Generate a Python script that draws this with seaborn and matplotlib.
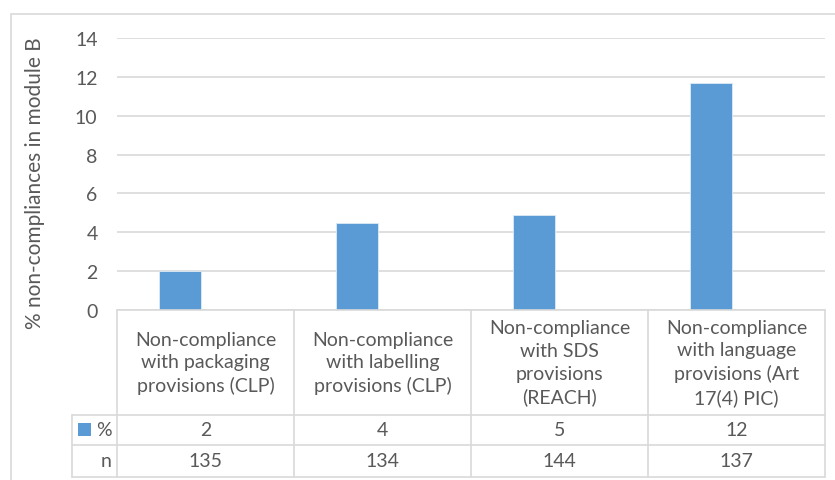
import matplotlib
matplotlib.use("Agg")
import matplotlib.pyplot as plt
import matplotlib.transforms as mtransforms
from matplotlib.patches import Rectangle
import seaborn as sns
import pandas as pd

# data
categories = ["Non-compliance\nwith packaging\nprovisions (CLP)",
              "Non-compliance\nwith labelling\nprovisions (CLP)",
              "Non-compliance\nwith SDS\nprovisions\n(REACH)",
              "Non-compliance\nwith language\nprovisions (Art\n17(4) PIC)"]
pct_values = [2.0, 4.5, 4.9, 11.7]
pct_labels = ["2", "4", "5", "12"]
n_values = ["135", "134", "144", "137"]
yticks = [0, 2, 4, 6, 8, 10, 12, 14]

bar_color = "#5B9BD5"
grid_color = "#D9D9D9"
text_color = "#595959"
fs = 14

sns.set_theme(style="white")
plt.rcParams['font.family'] = ['Lato', 'DejaVu Sans']

W, H = 835, 481
fig = plt.figure(figsize=(W / 100, H / 100), dpi=100)
ax = fig.add_axes([117 / W, 1 - 311 / H, (825 - 117) / W, 272 / H])

df = pd.DataFrame({"cat": categories, "pct": pct_values})
sns.barplot(data=df, x="cat", y="pct", color=bar_color, width=0.237,
            saturation=1, ax=ax, edgecolor="#DDEBF7", linewidth=0.6)
# excel puts the bar in the left slot of a two-series cluster
for p in ax.patches:
    p.set_x(p.get_x() - 0.144)

ax.set_xlim(-0.5, 3.5)
ax.set_ylim(0, 14)
ax.set_yticks(yticks)
ax.yaxis.grid(True, color=grid_color, linewidth=1.2)
ax.set_axisbelow(True)
for s in ax.spines.values():
    s.set_visible(False)
ax.set_xticks([])
ax.set_xlabel("")
ax.tick_params(axis="y", length=0, pad=14, labelsize=fs, labelcolor=text_color)
ax.set_ylabel("% non-compliances in module B", fontsize=15, color=text_color)
ax.yaxis.set_label_coords(-0.102, 0.47)

# data table under the plot
tr = mtransforms.blended_transform_factory(ax.transData, ax.transAxes)
y_head = -0.386
y_pct = -0.496
y_n = -0.614
x_leg = -0.754
x_edges = [-0.5, 0.5, 1.5, 2.5, 3.5]
lk = dict(color=grid_color, lw=1.2, transform=tr, clip_on=False)
for xe in x_edges:
    ax.plot([xe, xe], [0, y_n], **lk)
ax.plot([x_leg, x_leg], [y_head, y_n], **lk)
ax.plot([-0.5, 3.5], [0, 0], **lk)
for yy in [y_head, y_pct, y_n]:
    ax.plot([x_leg, 3.5], [yy, yy], **lk)

for i, cat in enumerate(categories):
    ax.text(i, y_head / 2, cat, ha="center", va="center", fontsize=fs,
            color=text_color, transform=tr, linespacing=1.4)
    ax.text(i, (y_head + y_pct) / 2, pct_labels[i], ha="center", va="center",
            fontsize=fs, color=text_color, transform=tr)
    ax.text(i, (y_pct + y_n) / 2, n_values[i], ha="center", va="center",
            fontsize=fs, color=text_color, transform=tr)

ax.add_patch(Rectangle((-0.72, -0.463), 0.073, 0.048, transform=tr,
                       facecolor=bar_color, edgecolor="none", clip_on=False))
ax.text(-0.53, (y_head + y_pct) / 2, "%", ha="right", va="center", fontsize=fs,
        color=text_color, transform=tr)
ax.text(-0.53, (y_pct + y_n) / 2, "n", ha="right", va="center", fontsize=fs,
        color=text_color, transform=tr)

# chart area border (left and top visible)
fig.patches.append(Rectangle((11 / W, -0.1), 1.2, 1 - 15 / H + 0.1,
                             transform=fig.transFigure, fill=False,
                             edgecolor=grid_color, lw=1.2))

fig.savefig("out.png", dpi=100)
